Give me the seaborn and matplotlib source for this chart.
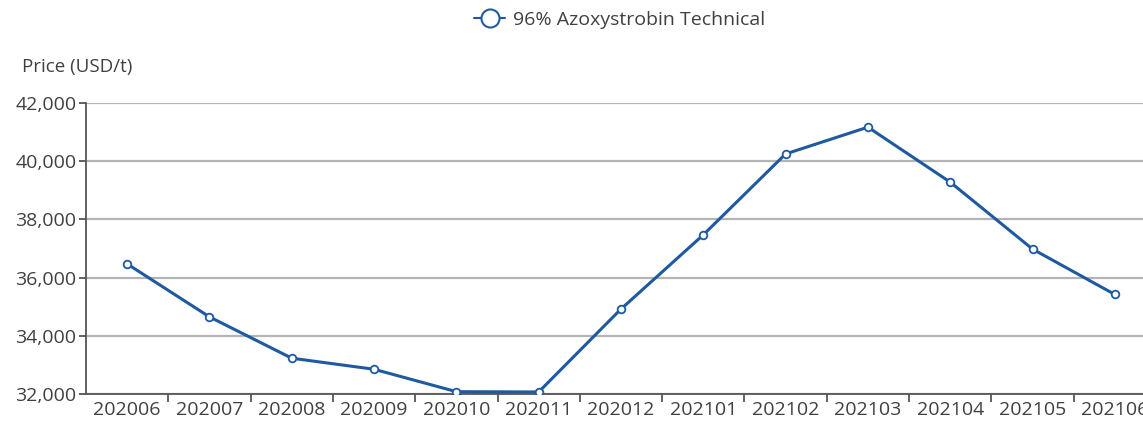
import numpy as np
import pandas as pd
import seaborn as sns
import matplotlib.pyplot as plt
from matplotlib.lines import Line2D

# ── Data ──────────────────────────────────────────────────────
months = ["202006", "202007", "202008", "202009", "202010", "202011", "202012",
          "202101", "202102", "202103", "202104", "202105", "202106"]
prices = [36470, 34650, 33230, 32850, 32080, 32070, 34920,
          37470, 40250, 41170, 39280, 36980, 35420]
series_name = "96% Azoxystrobin Technical"
y_ticks = [32000, 34000, 36000, 38000, 40000, 42000]

line_color = "#1f5aa0"
text_color = "#404040"

sns.set_theme(style="white")
plt.rcParams["font.family"] = ["Open Sans", "DejaVu Sans"]

df = pd.DataFrame({"month": months, "price": prices})

fig = plt.figure(figsize=(11.43, 4.23), dpi=100)
# axis runs past the right edge like the original screenshot
ax = fig.add_axes([86 / 1143, 1 - 394 / 423, 1070 / 1143, 291 / 423])

sns.lineplot(data=df, x="month", y="price", ax=ax, color=line_color,
             linewidth=2.2, marker="o", markersize=5.5,
             markerfacecolor="white", markeredgecolor=line_color,
             markeredgewidth=1.3, sort=False, zorder=3)

n = len(months)
ax.set_xlim(-0.5, n - 0.5)
ax.set_ylim(32000, 42000)
ax.set_yticks(y_ticks)
ax.set_yticklabels([f"{v:,}" for v in y_ticks])
ax.set_xticks(range(n))
ax.set_xticklabels(months)
ax.set_xticks(np.arange(0.5, n - 0.5, 1), minor=True)

ax.yaxis.grid(True, color="#b4b4b4", linewidth=1.6, zorder=0)
ax.set_axisbelow(True)
for side in ["top", "right"]:
    ax.spines[side].set_visible(False)
for side in ["left", "bottom"]:
    ax.spines[side].set_color("#555555")
    ax.spines[side].set_linewidth(1.3)

ax.tick_params(axis="x", which="major", length=0, labelsize=14,
               labelcolor=text_color, pad=5)
ax.tick_params(axis="x", which="minor", length=6, width=1.3,
               color="#555555", direction="out", bottom=True)
ax.tick_params(axis="y", length=5, width=1.3, color="#555555",
               direction="out", left=True, labelsize=14,
               labelcolor=text_color, pad=2)
ax.set_xlabel("")
ax.set_ylabel("")

fig.text(22 / 1143, 1 - 67 / 423, "Price (USD/t)", fontsize=13.5,
         color=text_color, va="center", ha="left")

handle = Line2D([0], [0], color=line_color, linewidth=1.5, marker="o",
                markersize=13, markerfacecolor="white",
                markeredgecolor=line_color, markeredgewidth=1.5)
fig.legend([handle], [series_name], loc="center",
           bbox_to_anchor=(0.542, 1 - 20 / 423), frameon=False,
           fontsize=14, labelcolor=text_color, handlelength=1.6,
           handletextpad=0.4)

plt.savefig("out.png", dpi=100)
plt.close()
